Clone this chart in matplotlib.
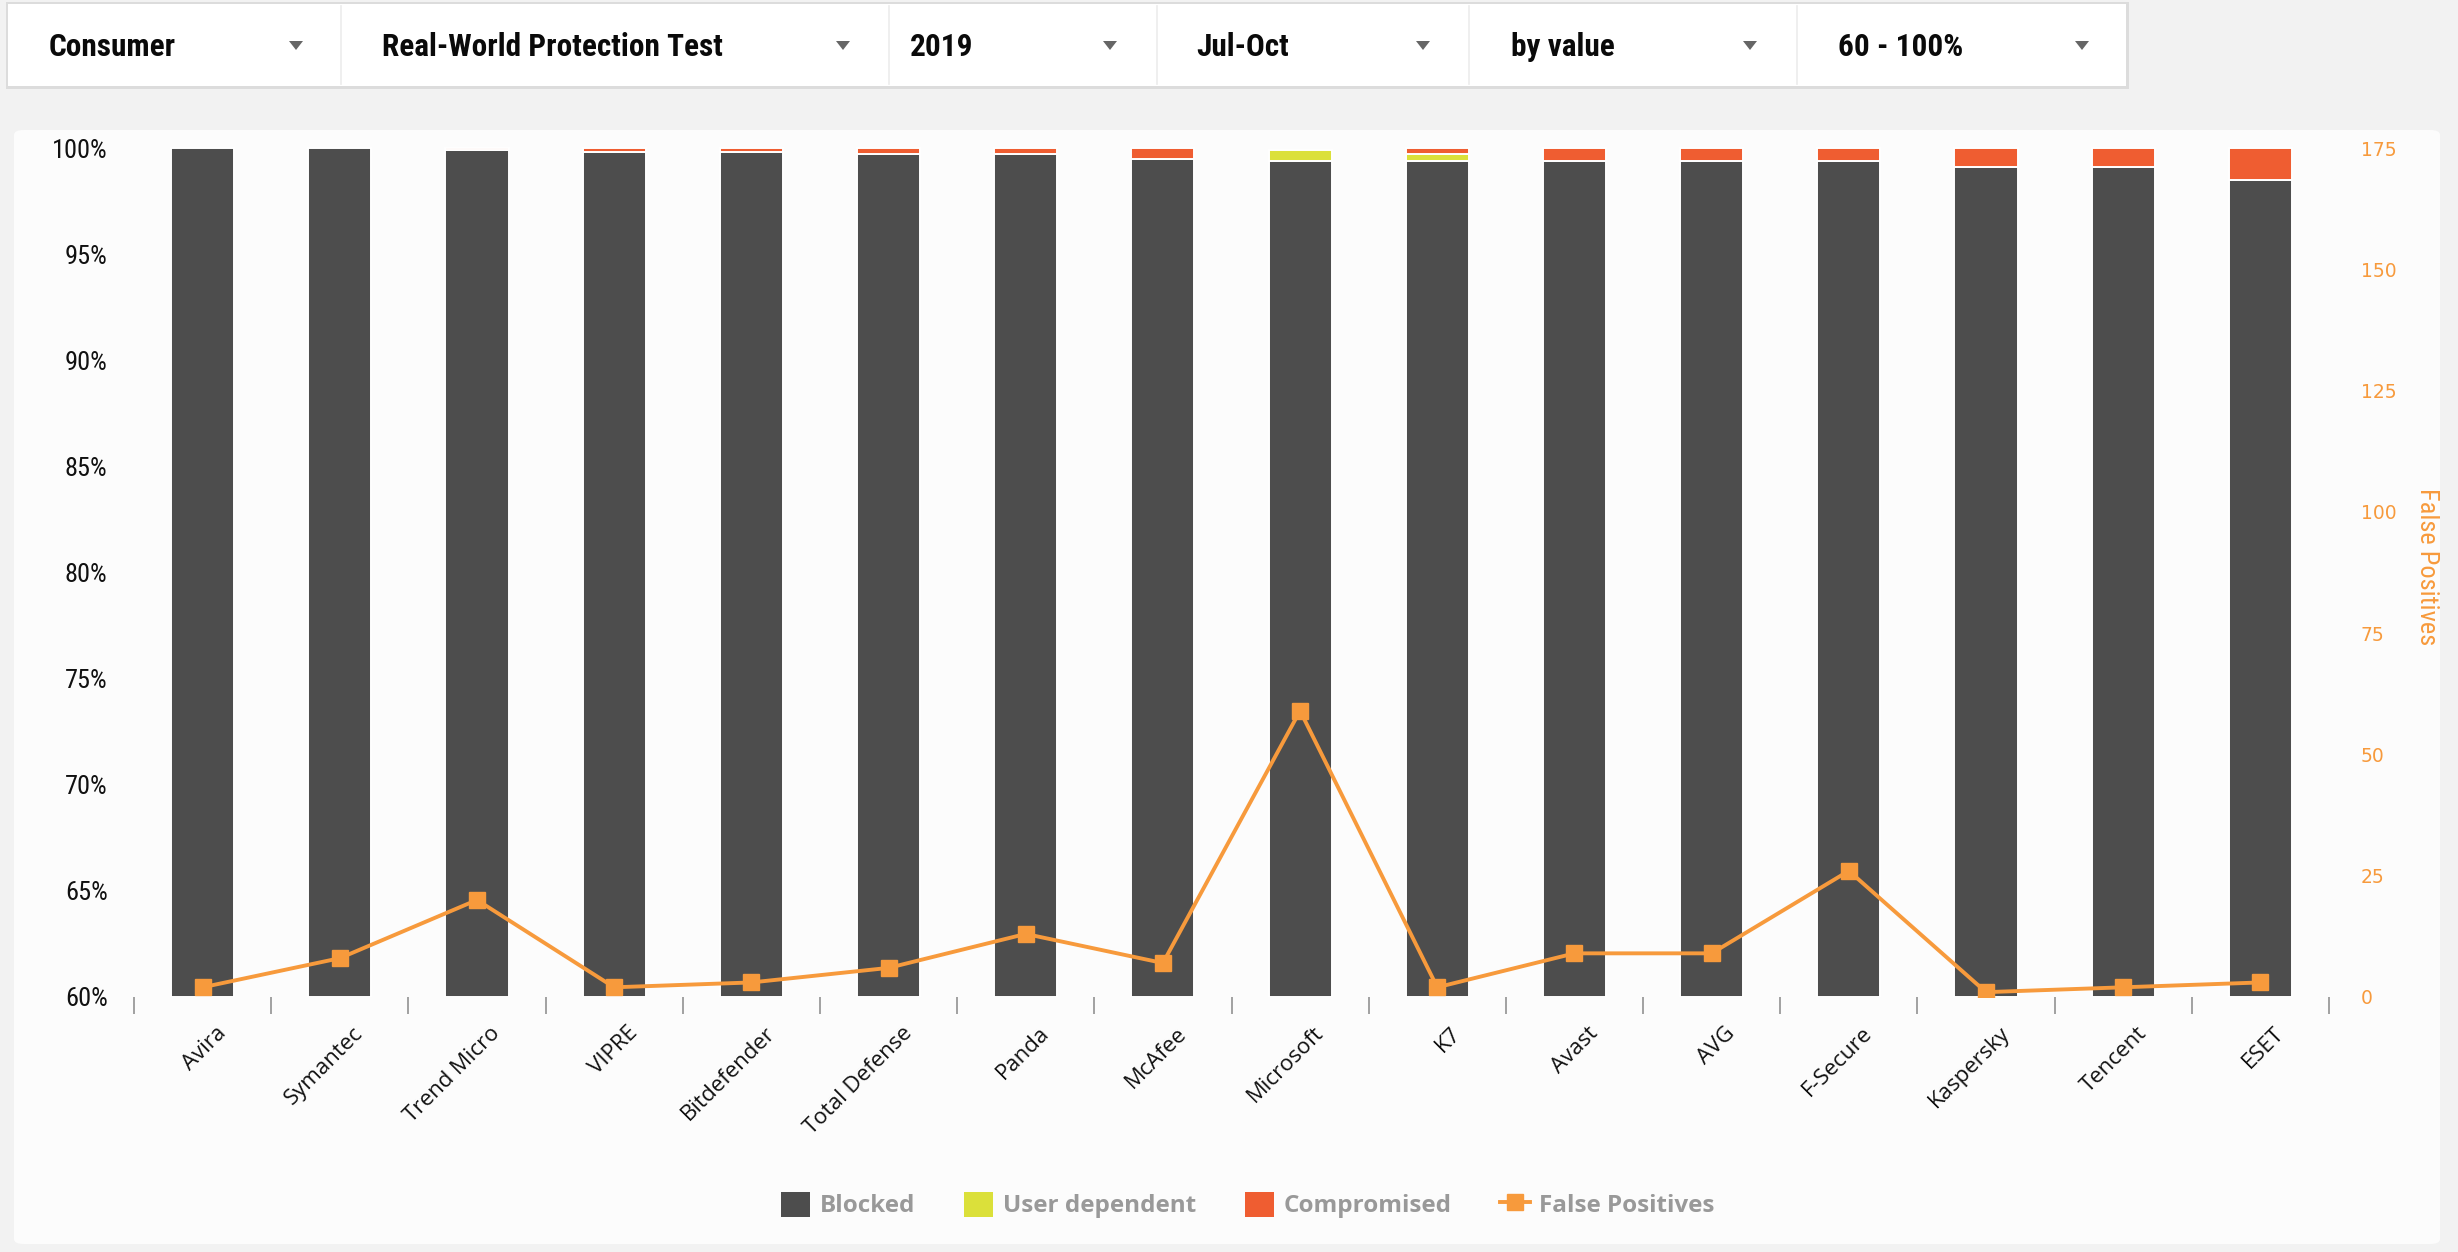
import matplotlib
matplotlib.use('Agg')
import matplotlib.pyplot as plt
from matplotlib.patches import Rectangle, FancyBboxPatch, Patch, Polygon
from matplotlib.lines import Line2D
from matplotlib.transforms import ScaledTranslation
import numpy as np

# ---------------- data ----------------
vendors = ['Avira', 'Symantec', 'Trend Micro', 'VIPRE', 'Bitdefender', 'Total Defense',
           'Panda', 'McAfee', 'Microsoft', 'K7', 'Avast', 'AVG', 'F-Secure',
           'Kaspersky', 'Tencent', 'ESET']
blocked = [100, 100, 99.9, 99.8, 99.8, 99.7, 99.7, 99.5, 99.4, 99.4, 99.4, 99.4, 99.4, 99.1, 99.1, 98.5]
user_dependent = [0, 0, 0, 0, 0, 0, 0, 0, 0.5, 0.3, 0, 0, 0, 0, 0, 0]
compromised = [0, 0, 0.1, 0.2, 0.2, 0.3, 0.3, 0.5, 0, 0.3, 0.6, 0.6, 0.6, 0.9, 0.9, 1.5]
false_positives = [2, 8, 20, 2, 3, 6, 13, 7, 59, 2, 9, 9, 26, 1, 2, 3]
filters = ['Consumer', 'Real-World Protection Test', '2019', 'Jul-Oct', 'by value', '60 - 100%']
pct_ticks = [60, 65, 70, 75, 80, 85, 90, 95, 100]
fp_ticks = [0, 25, 50, 75, 100, 125, 150, 175]
legend_labels = ['Blocked', 'User dependent', 'Compromised', 'False Positives']

# ---------------- style ----------------
C_BLOCK = '#4d4d4d'
C_UD = '#dbe03a'
C_COMP = '#ef5d31'
C_FP = '#f79a3c'
COND = ['Roboto Condensed', 'Open Sans Condensed', 'IBM Plex Sans Condensed', 'DejaVu Sans']
LEGF = ['Open Sans', 'DejaVu Sans']

W, H = 2458, 1252
fig = plt.figure(figsize=(W / 100, H / 100), dpi=100, facecolor='#f2f2f2')

def fx(px):
    return px / W

def fy(py):
    return 1 - py / H

# chart panel
panel = FancyBboxPatch((fx(14), fy(1244)), fx(2440) - fx(14), fy(130) - fy(1244),
                       boxstyle='round,pad=0,rounding_size=0.004', transform=fig.transFigure,
                       facecolor='#fcfcfc', edgecolor='none', zorder=-10)
fig.patches.append(panel)

# dropdown filter bar
shadow = Rectangle((fx(6), fy(89)), fx(2129) - fx(6), fy(2) - fy(89), transform=fig.transFigure,
                   facecolor='#dcdcdc', edgecolor='none', zorder=-9)
fig.patches.append(shadow)
box = Rectangle((fx(8), fy(86)), fx(2126) - fx(8), fy(4) - fy(86), transform=fig.transFigure,
                facecolor='white', edgecolor='none', zorder=-8)
fig.patches.append(box)
seps = [341, 889, 1157, 1469, 1797]
for sx in seps:
    fig.add_artist(Line2D([fx(sx), fx(sx)], [fy(6), fy(84)], transform=fig.transFigure,
                          color='#ececec', lw=1.2, zorder=-7))
text_x = [49, 382, 910, 1196, 1511, 1838]
tri_x = [296, 843, 1110, 1423, 1750, 2082]
for t, tx_, trx in zip(filters, text_x, tri_x):
    fig.text(fx(tx_), fy(47), t, ha='left', va='center', fontsize=22.5, fontweight='bold',
             family=COND, color='#0a0a0a')
    tri = Polygon([[fx(trx - 7), fy(41)], [fx(trx + 7), fy(41)], [fx(trx), fy(50)]],
                  closed=True, transform=fig.transFigure, facecolor='#666666', edgecolor='none')
    fig.add_artist(tri)

# ---------------- axes ----------------
left_px, right_px = 134, 2329
ymax = 100.2
top_px = 997 - (ymax - 60) * (997 - 148) / 40
ax = fig.add_axes([fx(left_px), fy(997), fx(right_px) - fx(left_px), fy(top_px) - fy(997)])
ax.patch.set_visible(False)

x = np.arange(len(vendors))
blocked_a = np.array(blocked, dtype=float)
ud_a = np.array(user_dependent, dtype=float)
comp_a = np.array(compromised, dtype=float)
bw = 0.46

ax.bar(x, blocked_a - 60, bottom=60, width=bw, color=C_BLOCK, edgecolor='white', linewidth=1.4, zorder=2)
m = ud_a > 0
ax.bar(x[m], ud_a[m], bottom=blocked_a[m], width=bw, color=C_UD, edgecolor='white', linewidth=1.4, zorder=2)
m = comp_a > 0
ax.bar(x[m], comp_a[m], bottom=(blocked_a + ud_a)[m], width=bw, color=C_COMP, edgecolor='white',
       linewidth=1.4, zorder=2)

ax.set_xlim(-0.5, len(vendors) - 0.5)
ax.set_ylim(60, ymax)
ax.set_yticks(pct_ticks)
ax.set_yticklabels([f'{v}%' for v in pct_ticks], family=COND, fontsize=19, color='#111111')
ax.tick_params(axis='y', length=0, pad=19)
ax.set_xticks(x)
ax.set_xticks(np.arange(-0.5, len(vendors)), minor=True)
ax.tick_params(axis='x', which='major', length=0, pad=18.5)
ax.tick_params(axis='x', which='minor', length=12, width=1.3, color='#9a9a9a', direction='out')
ax.set_xticklabels(vendors, rotation=45, ha='right', va='top', rotation_mode='anchor',
                   fontsize=16, color='#111111', family=['Open Sans', 'DejaVu Sans'])
off = ScaledTranslation(13 / 100, 0, fig.dpi_scale_trans)
for lab in ax.get_xticklabels():
    lab.set_transform(lab.get_transform() + off)
for s in ax.spines.values():
    s.set_visible(False)

ax2 = ax.twinx()
ax2.patch.set_visible(False)
ax2.plot(x, false_positives, color=C_FP, lw=2.8, marker='s', markersize=12, zorder=5)
ax2.set_ylim(0, 175 * (ymax - 60) / 40)
ax2.set_yticks(fp_ticks)
ax2.set_yticklabels([str(v) for v in fp_ticks], fontsize=13.5, color=C_FP, family='DejaVu Sans')
ax2.tick_params(axis='y', length=0, pad=23)
for s in ax2.spines.values():
    s.set_visible(False)
fig.text(fx(2427), fy(567), 'False Positives', rotation=270, ha='center', va='center',
         fontsize=19, color=C_FP, family=COND)

# ---------------- legend ----------------
handles = [Patch(facecolor=C_BLOCK, edgecolor='none'),
           Patch(facecolor=C_UD, edgecolor='none'),
           Patch(facecolor=C_COMP, edgecolor='none'),
           Line2D([], [], color=C_FP, lw=2.8, marker='s', markersize=11)]
leg = fig.legend(handles, legend_labels, ncol=4, loc='center', bbox_to_anchor=(fx(1248), fy(1205)),
                 frameon=False, handlelength=1.2, handleheight=1.2, handletextpad=0.4,
                 columnspacing=2.0, prop={'family': LEGF, 'weight': 'bold', 'size': 17.5})
for t in leg.get_texts():
    t.set_color('#999999')

fig.savefig('out.png', dpi=100, facecolor=fig.get_facecolor())
